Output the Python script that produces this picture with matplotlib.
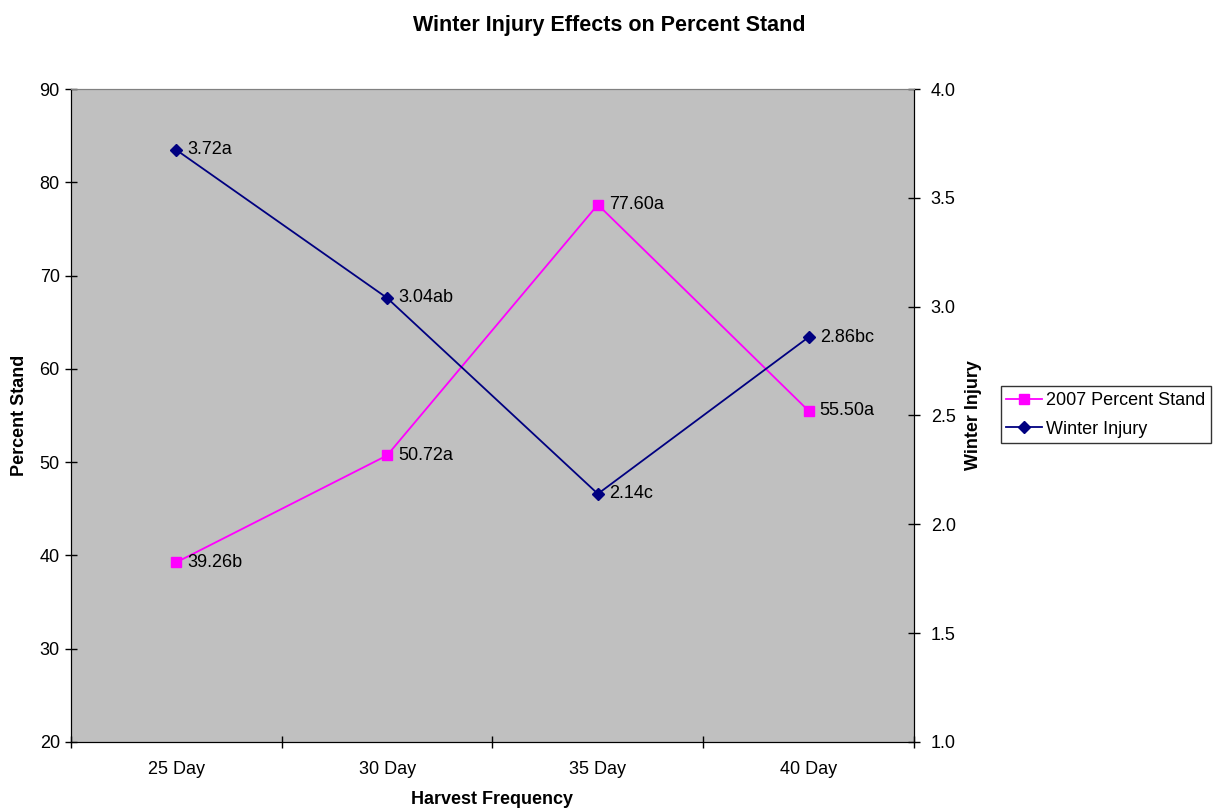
import matplotlib.pyplot as plt

plt.rcParams['font.family'] = ['Liberation Sans', 'DejaVu Sans']

categories = ["25 Day", "30 Day", "35 Day", "40 Day"]
stand = [39.26, 50.72, 77.60, 55.50]
stand_labels = ["39.26b", "50.72a", "77.60a", "55.50a"]
injury = [3.72, 3.04, 2.14, 2.86]
injury_labels = ["3.72a", "3.04ab", "2.14c", "2.86bc"]

fig = plt.figure(figsize=(12.19, 8.10), dpi=100)
ax = fig.add_axes([0.0582, 0.084, 0.6916, 0.8061])
ax2 = ax.twinx()

x = list(range(len(categories)))

ax.set_facecolor("#C0C0C0")
l1, = ax.plot(x, stand, color="#FF00FF", marker="s", markersize=7, lw=1.3,
              label="2007 Percent Stand", zorder=3)
l2, = ax2.plot(x, injury, color="#000080", marker="D", markersize=6, lw=1.3,
               label="Winter Injury", zorder=3)

for xi, v, t in zip(x, stand, stand_labels):
    ax.annotate(t, (xi, v), xytext=(8, 0), textcoords="offset points",
                va="center", ha="left", fontsize=13)
for xi, v, t in zip(x, injury, injury_labels):
    ax2.annotate(t, (xi, v), xytext=(8, 0), textcoords="offset points",
                 va="center", ha="left", fontsize=13)

ax.set_xlim(-0.5, 3.5)
ax.set_ylim(20, 90)
ax2.set_ylim(1.0, 4.0)
ax.set_yticks(range(20, 91, 10))
ax2.set_yticks([1.0, 1.5, 2.0, 2.5, 3.0, 3.5, 4.0])
ax2.set_yticklabels(["1.0", "1.5", "2.0", "2.5", "3.0", "3.5", "4.0"])

ax.set_xticks([-0.5, 0.5, 1.5, 2.5, 3.5])
ax.set_xticklabels([])
ax.set_xticks(x, minor=True)
ax.set_xticklabels(categories, minor=True)
ax.tick_params(axis="x", which="major", direction="inout", length=8, width=1)
ax.tick_params(axis="x", which="minor", length=0, pad=14, labelsize=13)
ax.tick_params(axis="y", direction="inout", length=8, width=1, labelsize=13, pad=4)
ax2.tick_params(axis="y", direction="inout", length=8, width=1, labelsize=13, pad=8)

for a in (ax, ax2):
    a.spines["top"].set_color("#808080")
    a.spines["left"].set_color("black")
    a.spines["right"].set_color("black")
    a.spines["bottom"].set_color("black")

ax.set_xlabel("Harvest Frequency", fontsize=13, fontweight="bold", labelpad=9)
ax.set_ylabel("Percent Stand", fontsize=13, fontweight="bold", labelpad=8)
ax2.set_ylabel("Winter Injury", fontsize=13, fontweight="bold", labelpad=7)
fig.text(0.5, 0.969, "Winter Injury Effects on Percent Stand", ha="center",
         va="center", fontsize=15.5, fontweight="bold")

fig.legend(handles=[l1, l2], loc="center left", bbox_to_anchor=(0.821, 0.488),
           fontsize=13, frameon=True, fancybox=False, edgecolor="black",
           borderpad=0.3, borderaxespad=0, handlelength=2.0, handletextpad=0.2,
           labelspacing=0.65)

fig.savefig("out.png", dpi=100)
